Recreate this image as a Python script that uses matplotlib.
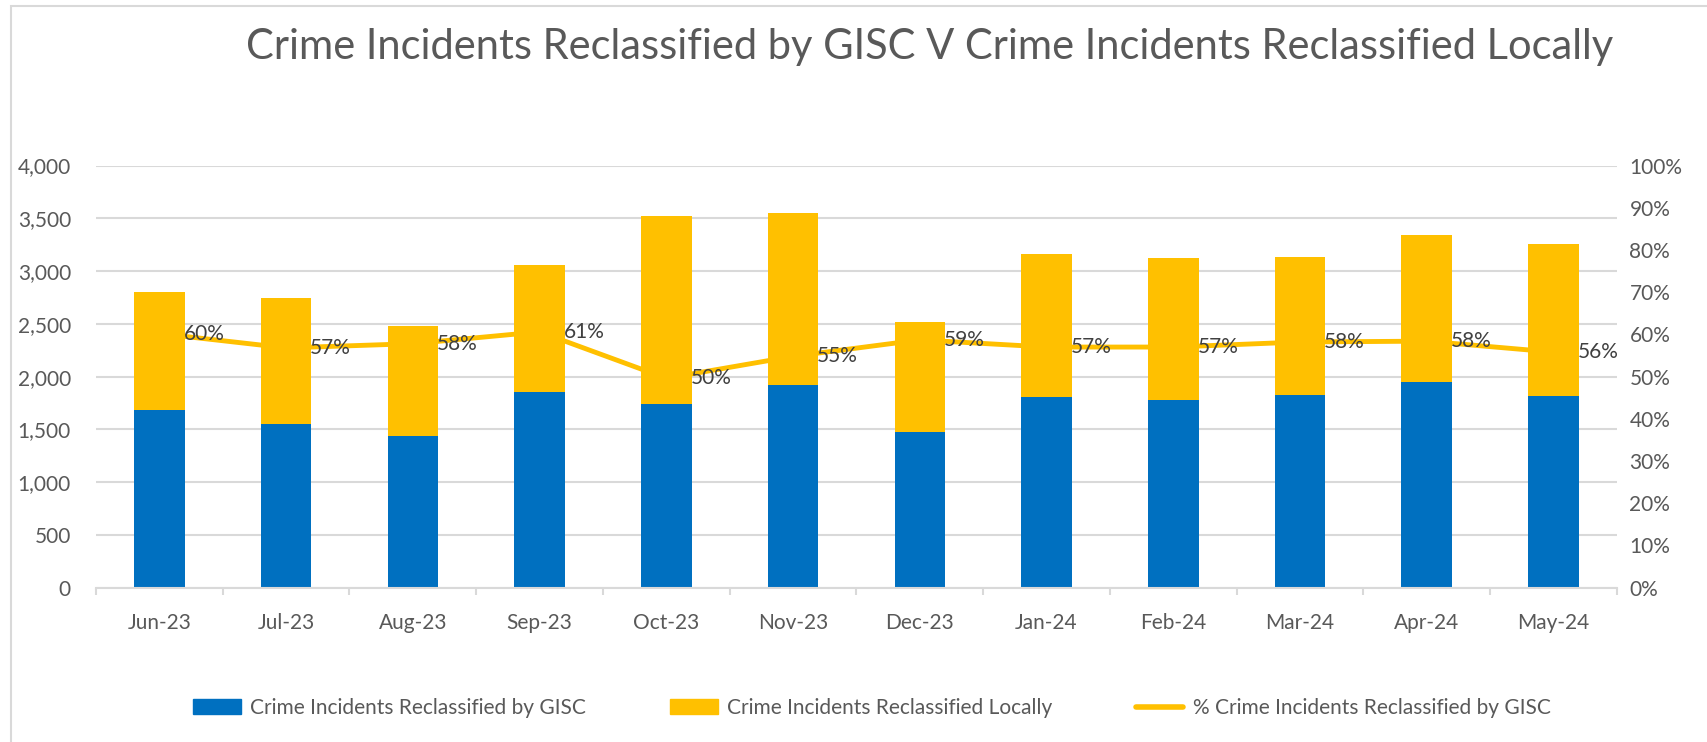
import matplotlib
matplotlib.use("Agg")
import matplotlib.pyplot as plt
import matplotlib.ticker as ticker
from matplotlib.patches import Rectangle, Patch
from matplotlib.lines import Line2D

plt.rcParams["font.family"] = ["Lato", "DejaVu Sans"]

# Данные графика
months = ["Jun-23", "Jul-23", "Aug-23", "Sep-23", "Oct-23", "Nov-23",
          "Dec-23", "Jan-24", "Feb-24", "Mar-24", "Apr-24", "May-24"]
by_gisc = [1687, 1551, 1434, 1852, 1744, 1924, 1479, 1804, 1782, 1826, 1953, 1820]
locally = [1116, 1195, 1046, 1206, 1779, 1624, 1042, 1359, 1343, 1312, 1393, 1441]
pct_gisc = [0.602, 0.568, 0.578, 0.606, 0.496, 0.548, 0.587, 0.570, 0.570, 0.582, 0.584, 0.558]

blue = "#0070C0"
gold = "#FFC000"
grid_gray = "#D9D9D9"
text_gray = "#595959"
fs = 15

fig = plt.figure(figsize=(17.08, 7.42), dpi=100)
ax = fig.add_axes([0.0562, 0.208, 0.8905, 0.5689])
ax2 = ax.twinx()

x = list(range(len(months)))

ax.bar(x, by_gisc, width=0.4, color=blue, zorder=2)
ax.bar(x, locally, width=0.4, bottom=by_gisc, color=gold, zorder=2)

ax2.plot(x, pct_gisc, color=gold, linewidth=3.5, solid_capstyle="round")
for i, p in enumerate(pct_gisc):
    ax2.text(i + 0.19, p, f"{round(p * 100):.0f}%", ha="left", va="center",
             fontsize=fs, color="#404040")

ax.set_xlim(-0.5, len(months) - 0.5)
ax.set_ylim(0, 4000)
ax2.set_ylim(0, 1)

ax.yaxis.set_major_locator(ticker.MultipleLocator(500))
ax.yaxis.set_major_formatter(ticker.FuncFormatter(lambda v, _: f"{v:,.0f}"))
ax2.yaxis.set_major_locator(ticker.MultipleLocator(0.1))
ax2.yaxis.set_major_formatter(ticker.FuncFormatter(lambda v, _: f"{v * 100:.0f}%"))

ax.set_xticks(x)
ax.set_xticklabels(months)
ax.set_xticks([i - 0.5 for i in range(len(months) + 1)], minor=True)

ax.grid(axis="y", color=grid_gray, linewidth=1.5)
ax.set_axisbelow(True)

for s in ["left", "right", "top"]:
    ax.spines[s].set_visible(False)
for s in ax2.spines.values():
    s.set_visible(False)
ax.spines["bottom"].set_color(grid_gray)
ax.spines["bottom"].set_linewidth(1.5)

ax.tick_params(axis="x", which="major", length=0, pad=18, labelsize=fs, labelcolor=text_gray)
ax.tick_params(axis="x", which="minor", length=5, width=1.5, color=grid_gray)
ax.tick_params(axis="y", length=0, pad=18, labelsize=fs, labelcolor=text_gray)
ax2.tick_params(axis="y", length=0, pad=9, labelsize=fs, labelcolor=text_gray)

fig.text(930 / 1708, 1 - 59 / 742,
         "Crime Incidents Reclassified by GISC V Crime Incidents Reclassified Locally",
         ha="center", va="baseline", fontsize=30, color=text_gray)

handles = [
    Patch(color=blue),
    Patch(color=gold),
    Line2D([], [], color=gold, linewidth=4, solid_capstyle="round"),
]
labels = [
    "Crime Incidents Reclassified by GISC",
    "Crime Incidents Reclassified Locally",
    "% Crime Incidents Reclassified by GISC",
]
fig.legend(handles, labels, loc="center", bbox_to_anchor=(0.5105, 1 - 708 / 742),
           ncol=3, frameon=False, fontsize=fs, labelcolor=text_gray,
           handlelength=2.3, handleheight=0.7, handletextpad=0.45, columnspacing=4.0)

# Рамка области диаграммы
fig.patches.append(Rectangle((11 / 1708, -0.1), 1.0, 1 - 5.5 / 742 + 0.1,
                             transform=fig.transFigure, fill=False,
                             edgecolor=grid_gray, linewidth=1.5))

fig.savefig("out.png", dpi=100)
